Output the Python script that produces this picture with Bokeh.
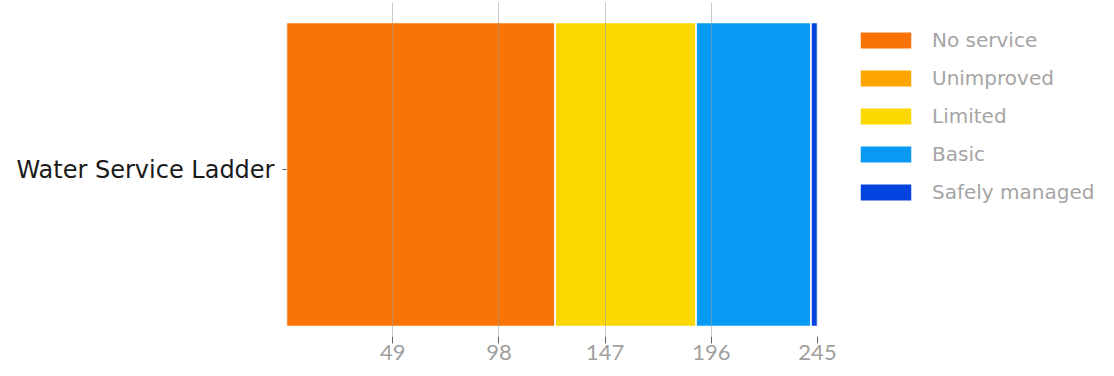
from bokeh.plotting import figure
from bokeh.models import ColumnDataSource, Range1d, FactorRange, FixedTicker, Legend, LegendItem
from bokeh.transform import dodge
from bokeh.embed import file_html
from bokeh.resources import INLINE

categories = ["Water Service Ladder"]
levels = ["No service", "Unimproved", "Limited", "Basic", "Safely managed"]
values = {
    "No service": [124],
    "Unimproved": [0],
    "Limited": [65],
    "Basic": [53],
    "Safely managed": [3],
}
colors = ["#F97306", "#FFA500", "#FDD700", "#069AF3", "#0343DF"]
tick_values = [49, 98, 147, 196, 245]

data = {"cat": categories}
data.update({k: v for k, v in values.items()})
src = ColumnDataSource(data)

total = sum(values[k][0] for k in levels)

p = figure(
    y_range=FactorRange(factors=categories, range_padding=0),
    x_range=Range1d(0, total),
    frame_width=531, frame_height=334,
    output_backend="svg", toolbar_location=None,
    min_border_left=286, min_border_top=2, min_border_right=292, min_border_bottom=36,
)
p.outline_line_color = None
p.background_fill_color = "white"

renderers = p.hbar_stack(levels, y=dodge("cat", -0.015, range=p.y_range), height=0.91,
                         source=src, color=colors, line_color="white", line_width=1.5)

p.xgrid.ticker = FixedTicker(ticks=tick_values)
p.xgrid.grid_line_color = "#9a9a9a"
p.xgrid.grid_line_alpha = 0.55
p.xgrid.level = "overlay"
p.ygrid.grid_line_color = None

p.xaxis.ticker = FixedTicker(ticks=tick_values)
p.xaxis.axis_line_color = None
p.xaxis.major_tick_line_color = "#666666"
p.xaxis.major_tick_in = 0
p.xaxis.major_tick_out = 7
p.xaxis.minor_tick_line_color = None
p.xaxis.major_label_standoff = 1
p.xaxis.major_label_text_font = "Lato"
p.xaxis.major_label_text_font_size = "22px"
p.xaxis.major_label_text_color = "#a0a0a0"

p.yaxis.axis_line_color = None
p.yaxis.major_tick_line_color = "#555555"
p.yaxis.major_tick_in = 0
p.yaxis.major_tick_out = 4
p.yaxis.major_label_standoff = 8
p.yaxis.major_label_text_font = "DejaVu Sans"
p.yaxis.major_label_text_font_size = "24px"
p.yaxis.major_label_text_color = "#1a1a1a"

items = [LegendItem(label=lvl, renderers=[r]) for lvl, r in zip(levels, renderers)]
legend = Legend(items=items, location=(36, 132))
legend.margin = 0
legend.padding = 0
legend.border_line_alpha = 0
legend.background_fill_alpha = 0
legend.glyph_width = 65
legend.glyph_height = 22
legend.label_standoff = 14
legend.label_text_font = "DejaVu Sans"
legend.label_text_font_size = "20px"
legend.label_text_color = "#a5a5a5"
legend.label_height = 18
legend.spacing = 14
p.add_layout(legend, "right")

open("out.html", "w").write(file_html(p, INLINE))
